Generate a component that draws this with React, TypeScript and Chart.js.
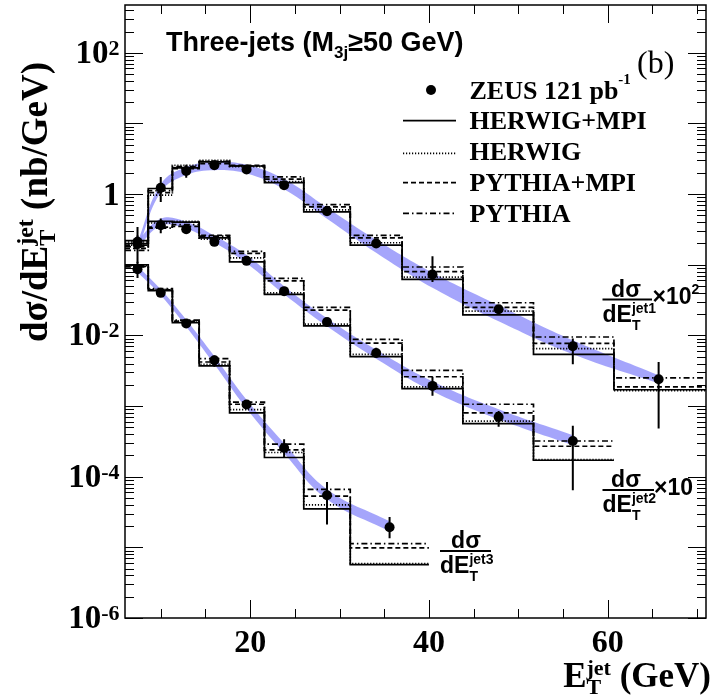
import React, { useEffect, useRef } from "react";
import { Chart, registerables } from "chart.js";
Chart.register(...registerables);

const X_MIN = 6;
const X_MAX = 71;
const Y_MIN = 1e-6;
const Y_MAX = 475;

// bin edges (GeV)
const edges1 = [6, 8.6, 11.3, 14.3, 17.7, 21.6, 26, 31.2, 37, 43.8, 51.7, 60.7, 71];
const edges2 = [6, 8.6, 11.3, 14.3, 17.7, 21.6, 26, 31.2, 37, 43.8, 51.7, 60.7];
const edges3 = [6, 8.6, 11.3, 14.3, 17.7, 21.6, 26, 31.2, 40];

// data point positions
const xPts12 = [7.4, 10, 12.85, 16, 19.6, 23.8, 28.6, 34.1, 40.4, 47.8, 56.1, 65.7];
const xPts2 = [7.4, 10, 12.85, 16, 19.6, 23.8, 28.6, 34.1, 40.4, 47.8, 56.1];
const xPts3 = [7.4, 10, 12.85, 16, 19.6, 23.8, 28.6, 35.6];

// ZEUS data: jet1 (x100)
const jet1Val = [0.196, 1.23, 2.13, 2.57, 2.23, 1.34, 0.574, 0.2, 0.0728, 0.0235, 0.00703, 0.0024];
const jet1Lo = [0.105, 0.776, 1.7, 2.35, 2.1, 1.27, 0.55, 0.19, 0.057, 0.0205, 0.0039, 0.00048];
const jet1Hi = [0.343, 1.75, 2.6, 2.8, 2.36, 1.41, 0.6, 0.21, 0.132, 0.0265, 0.00904, 0.00422];
// jet2 (x10)
const jet2Val = [0.211, 0.363, 0.319, 0.211, 0.1135, 0.0423, 0.0155, 0.00565, 0.00193, 0.0007, 0.00032];
const jet2Lo = [0.17, 0.28, 0.3, 0.2, 0.108, 0.04, 0.0147, 0.0049, 0.0014, 0.00051, 0.0000645];
const jet2Hi = [0.26, 0.45, 0.34, 0.225, 0.12, 0.0447, 0.0163, 0.0067, 0.0026, 0.00085, 0.000526];
// jet3 (x1)
const jet3Val = [0.0865, 0.04, 0.01476, 0.00446, 0.00105, 0.000255, 0.0000546, 0.0000192];
const jet3Lo = [0.065, 0.037, 0.014, 0.0036, 0.001, 0.00019, 0.000021, 0.0000135];
const jet3Hi = [0.11, 0.043, 0.0156, 0.0052, 0.0011, 0.000339, 0.000084, 0.0000269];

// NLO bands (upper / lower edges)
const band1Hi = [0.207, 1.38, 2.41, 2.83, 2.61, 1.63, 0.643, 0.226, 0.0773, 0.0268, 0.00855, 0.00274];
const band1Lo = [0.156, 1.07, 1.86, 2.18, 1.95, 1.17, 0.449, 0.148, 0.0473, 0.0159, 0.00542, 0.0021];
const band2Hi = [0.219, 0.449, 0.407, 0.258, 0.137, 0.0498, 0.0175, 0.00627, 0.00224, 0.0009, 0.000387];
const band2Lo = [0.175, 0.357, 0.324, 0.206, 0.105, 0.0383, 0.0135, 0.00468, 0.00162, 0.00065, 0.000279];
const band3Hi = [0.0955, 0.0451, 0.0167, 0.00507, 0.00123, 0.000298, 0.0000664, 0.0000234];
const band3Lo = [0.0785, 0.0371, 0.0133, 0.00391, 0.00092, 0.000215, 0.000048, 0.0000169];

// MC histograms
const j1HerwigMpi = [0.2, 1.2, 2.35, 2.85, 2.5, 1.45, 0.56, 0.19, 0.062, 0.0195, 0.0054, 0.0017];
const j1Herwig = [0.19, 0.97, 2.55, 3.0, 2.45, 1.5, 0.6, 0.205, 0.067, 0.022, 0.0065, 0.00165];
const j1PythiaMpi = [0.17, 1.05, 2.3, 2.7, 2.55, 1.63, 0.66, 0.24, 0.08, 0.025, 0.0077, 0.00187];
const j1Pythia = [0.16, 1.12, 2.45, 2.9, 2.5, 1.75, 0.71, 0.26, 0.093, 0.029, 0.0095, 0.0025];

const j2HerwigMpi = [0.22, 0.41, 0.4, 0.24, 0.11, 0.038, 0.0136, 0.005, 0.00177, 0.000565, 0.000171];
const j2Herwig = [0.21, 0.39, 0.41, 0.23, 0.125, 0.04, 0.0144, 0.0054, 0.00187, 0.00061, 0.000175];
const j2PythiaMpi = [0.19, 0.34, 0.35, 0.26, 0.145, 0.059, 0.0228, 0.0078, 0.0026, 0.0008, 0.00027];
const j2Pythia = [0.18, 0.33, 0.37, 0.255, 0.155, 0.064, 0.025, 0.0088, 0.0032, 0.00106, 0.00032];

const j3HerwigMpi = [0.1, 0.043, 0.0152, 0.0037, 0.0008, 0.000187, 0.000035, 0.0000057];
const j3Herwig = [0.097, 0.045, 0.016, 0.0039, 0.00089, 0.00022, 0.00004, 0.0000059];
const j3PythiaMpi = [0.095, 0.044, 0.0158, 0.0042, 0.00106, 0.00024, 0.000053, 0.0000098];
const j3Pythia = [0.093, 0.046, 0.0165, 0.0047, 0.00114, 0.00029, 0.000066, 0.0000113];

const yLabelExps = [2, 0, -2, -4, -6];
const xMajorTicks = [20, 40, 60];
const xMinorTicks = [10, 15, 25, 30, 35, 45, 50, 55, 65, 70];

const legendRows = ["ZEUS 121 pb", "HERWIG+MPI", "HERWIG", "PYTHIA+MPI", "PYTHIA"];

const BAND = "rgba(135,135,250,0.75)";
const DOTTED = [1.2, 1.8];
const DASHED = [5, 3];
const DASHDOT = [6, 3, 1.5, 3];
const STYLES = [[], DOTTED, DASHED, DASHDOT];

const SERIF = '"Liberation Serif", "Times New Roman", serif';
const SANS = '"Liberation Sans", Arial, sans-serif';

type Pt = { x: number; y: number | null };

function pts(xs: number[], ys: number[]): Pt[] {
  return xs.map((x, i) => ({ x, y: ys[i] }));
}
function histPts(edges: number[], vals: number[]): Pt[] {
  const p: Pt[] = vals.map((v, i) => ({ x: edges[i], y: v }));
  p.push({ x: edges[vals.length], y: vals[vals.length - 1] });
  return p;
}
function errPts(xs: number[], lo: number[], hi: number[]): Pt[] {
  const p: Pt[] = [];
  xs.forEach((x, i) => {
    p.push({ x, y: lo[i] }, { x, y: hi[i] }, { x, y: null });
  });
  return p;
}

type Piece =
  | { t: string; font: string; dy?: number }
  | { sup: string; sub: string; font: string; supDy: number; subDy: number };

function pieceW(ctx: CanvasRenderingContext2D, p: Piece): number {
  ctx.font = p.font;
  if ("t" in p) return ctx.measureText(p.t).width;
  return Math.max(ctx.measureText(p.sup).width, ctx.measureText(p.sub).width);
}
function drawPieces(ctx: CanvasRenderingContext2D, pieces: Piece[], x: number, y: number, align: "left" | "center" | "right") {
  const widths = pieces.map((p) => pieceW(ctx, p));
  const total = widths.reduce((a, b) => a + b, 0);
  let cx = align === "left" ? x : align === "center" ? x - total / 2 : x - total;
  ctx.textAlign = "left";
  ctx.textBaseline = "alphabetic";
  pieces.forEach((p, i) => {
    ctx.font = p.font;
    if ("t" in p) {
      ctx.fillText(p.t, cx, y + (p.dy || 0));
    } else {
      ctx.fillText(p.sup, cx, y + p.supDy);
      ctx.fillText(p.sub, cx, y + p.subDy);
    }
    cx += widths[i];
  });
}

const decorPlugin = {
  id: "decor",
  afterDraw(chart: any) {
    const ctx: CanvasRenderingContext2D = chart.ctx;
    const xs = chart.scales.x;
    const ys = chart.scales.y;
    const a = chart.chartArea;
    ctx.save();
    ctx.fillStyle = "#000";
    ctx.strokeStyle = "#000";
    // ticks
    ctx.lineWidth = 1;
    ctx.beginPath();
    for (let e = -6; e <= 2; e++) {
      for (let m = 1; m <= 9; m++) {
        const v = m * Math.pow(10, e);
        if (v < Y_MIN || v > Y_MAX) continue;
        const py = Math.round(ys.getPixelForValue(v)) + 0.5;
        const len = m === 1 ? 18 : 9;
        ctx.moveTo(a.left, py);
        ctx.lineTo(a.left + len, py);
        ctx.moveTo(a.right, py);
        ctx.lineTo(a.right - len, py);
      }
    }
    const xt = [...xMajorTicks.map((v) => [v, 18]), ...xMinorTicks.map((v) => [v, 9])];
    xt.forEach(([v, len]) => {
      const px = Math.round(xs.getPixelForValue(v)) + 0.5;
      ctx.moveTo(px, a.bottom);
      ctx.lineTo(px, a.bottom - len);
      ctx.moveTo(px, a.top);
      ctx.lineTo(px, a.top + len);
    });
    ctx.stroke();
    // frame
    ctx.lineWidth = 1.5;
    ctx.strokeRect(a.left, a.top, a.right - a.left, a.bottom - a.top);

    // x tick labels
    ctx.font = `bold 32px ${SERIF}`;
    ctx.textAlign = "center";
    ctx.textBaseline = "alphabetic";
    xMajorTicks.forEach((v) => {
      ctx.fillText(String(v), xs.getPixelForValue(v), 652);
    });
    // y tick labels
    yLabelExps.forEach((e) => {
      const py = ys.getPixelForValue(Math.pow(10, e));
      if (e === 0) {
        drawPieces(ctx, [{ t: "1", font: `bold 33px ${SERIF}` }], 119.5, py + 11, "right");
      } else {
        drawPieces(
          ctx,
          [
            { t: "10", font: `bold 33px ${SERIF}` },
            { t: String(e), font: `bold 22px ${SERIF}`, dy: -8 },
          ],
          119.5,
          py + 10,
          "right"
        );
      }
    });

    // axis titles
    drawPieces(
      ctx,
      [
        { t: "E", font: `bold 35px ${SERIF}` },
        { sup: "jet", sub: "T", font: `bold 22px ${SERIF}`, supDy: -12, subDy: 7 },
        { t: " (GeV)", font: `bold 35px ${SERIF}` },
      ],
      711,
      687,
      "right"
    );
    ctx.save();
    ctx.translate(47, 202);
    ctx.rotate(-Math.PI / 2);
    drawPieces(
      ctx,
      [
        { t: "d\u03c3/dE", font: `bold 37px ${SERIF}` },
        { sup: "jet", sub: "T", font: `bold 24px ${SERIF}`, supDy: -14, subDy: 8 },
        { t: " (nb/GeV)", font: `bold 37px ${SERIF}` },
      ],
      0,
      0,
      "center"
    );
    ctx.restore();

    // title
    drawPieces(
      ctx,
      [
        { t: "Three-jets (M", font: `bold 27px ${SANS}` },
        { t: "3j", font: `bold 17px ${SANS}`, dy: 7 },
        { t: "\u226550 GeV)", font: `bold 27px ${SANS}` },
      ],
      166,
      51,
      "left"
    );
    ctx.font = `32px ${SERIF}`;
    ctx.textAlign = "left";
    ctx.fillText("(b)", 637, 73);

    // legend
    const baselines = [99, 129, 160, 191, 221.5];
    const centers = [90, 120.7, 153.3, 182.7, 213.3];
    legendRows.forEach((r, i) => {
      if (i === 0) {
        drawPieces(
          ctx,
          [
            { t: r, font: `bold 26px ${SERIF}` },
            { t: "-1", font: `bold 15px ${SERIF}`, dy: -15 },
          ],
          469.5,
          baselines[i],
          "left"
        );
      } else {
        drawPieces(ctx, [{ t: r, font: `bold 26px ${SERIF}` }], 469.5, baselines[i], "left");
      }
    });
    ctx.beginPath();
    ctx.arc(431, centers[0], 5, 0, Math.PI * 2);
    ctx.fill();
    ctx.lineWidth = 1.7;
    for (let i = 1; i < 5; i++) {
      ctx.setLineDash(STYLES[i - 1]);
      ctx.beginPath();
      ctx.moveTo(403, centers[i]);
      ctx.lineTo(456, centers[i]);
      ctx.stroke();
    }
    ctx.setLineDash([]);

    // series labels
    const frac = (cx: number, lineY: number, x0: number, x1: number, tag: string) => {
      ctx.lineWidth = 2;
      ctx.beginPath();
      ctx.moveTo(x0, lineY);
      ctx.lineTo(x1, lineY);
      ctx.stroke();
      drawPieces(ctx, [{ t: "d\u03c3", font: `bold 23px ${SANS}` }], cx, lineY - 3, "center");
      drawPieces(
        ctx,
        [
          { t: "dE", font: `bold 23px ${SANS}` },
          { sup: tag, sub: "T", font: `bold 14px ${SANS}`, supDy: -9, subDy: 8 },
        ],
        x0,
        lineY + 22,
        "left"
      );
    };
    frac(626, 299.5, 602.5, 652, "jet1");
    drawPieces(
      ctx,
      [
        { t: "\u00d710", font: `bold 23px ${SANS}` },
        { t: "2", font: `bold 14px ${SANS}`, dy: -10 },
      ],
      652.5,
      304,
      "left"
    );
    frac(626, 490, 602.5, 654, "jet2");
    drawPieces(ctx, [{ t: "\u00d710", font: `bold 23px ${SANS}` }], 654, 495, "left");
    frac(466, 551, 440, 491, "jet3");
    ctx.restore();
  },
};

export default function App() {
  const ref = useRef<HTMLCanvasElement | null>(null);
  useEffect(() => {
    if (!ref.current) return;
    const hist = (edges: number[], vals: number[], style: number[]) => ({
      data: histPts(edges, vals),
      stepped: "before" as const,
      borderColor: "#000",
      borderWidth: 1.7,
      borderDash: style,
      pointRadius: 0,
      fill: false,
      tension: 0,
      order: 5,
    });
    const bandHi = (xs: number[], ys: number[]) => ({
      data: pts(xs, ys),
      borderWidth: 0,
      borderColor: "rgba(0,0,0,0)",
      pointRadius: 0,
      tension: 0.4,
      fill: "+1",
      backgroundColor: BAND,
      order: 10,
    });
    const bandLo = (xs: number[], ys: number[]) => ({
      data: pts(xs, ys),
      borderWidth: 0,
      borderColor: "rgba(0,0,0,0)",
      pointRadius: 0,
      tension: 0.4,
      fill: false,
      order: 10,
    });
    const errs = (xs: number[], lo: number[], hi: number[]) => ({
      data: errPts(xs, lo, hi),
      borderColor: "#000",
      borderWidth: 2,
      pointRadius: 0,
      spanGaps: false,
      fill: false,
      order: 2,
    });
    const dots = (xs: number[], ys: number[]) => ({
      data: pts(xs, ys),
      showLine: false,
      pointRadius: 5,
      pointBackgroundColor: "#000",
      pointBorderWidth: 0,
      order: 1,
    });
    const chart = new Chart(ref.current, {
      type: "line",
      data: {
        datasets: [
          bandHi(xPts12, band1Hi),
          bandLo(xPts12, band1Lo),
          bandHi(xPts2, band2Hi),
          bandLo(xPts2, band2Lo),
          bandHi(xPts3, band3Hi),
          bandLo(xPts3, band3Lo),
          hist(edges1, j1HerwigMpi, STYLES[0]),
          hist(edges1, j1Herwig, STYLES[1]),
          hist(edges1, j1PythiaMpi, STYLES[2]),
          hist(edges1, j1Pythia, STYLES[3]),
          hist(edges2, j2HerwigMpi, STYLES[0]),
          hist(edges2, j2Herwig, STYLES[1]),
          hist(edges2, j2PythiaMpi, STYLES[2]),
          hist(edges2, j2Pythia, STYLES[3]),
          hist(edges3, j3HerwigMpi, STYLES[0]),
          hist(edges3, j3Herwig, STYLES[1]),
          hist(edges3, j3PythiaMpi, STYLES[2]),
          hist(edges3, j3Pythia, STYLES[3]),
          errs(xPts12, jet1Lo, jet1Hi),
          errs(xPts2, jet2Lo, jet2Hi),
          errs(xPts3, jet3Lo, jet3Hi),
          dots(xPts12, jet1Val),
          dots(xPts2, jet2Val),
          dots(xPts3, jet3Val),
        ] as any,
      },
      options: {
        responsive: false,
        animation: false,
        devicePixelRatio: 1,
        events: [],
        layout: { padding: { left: 125, right: 1, top: 5, bottom: 82 } },
        plugins: { legend: { display: false }, tooltip: { enabled: false } },
        scales: {
          x: { type: "linear", min: X_MIN, max: X_MAX, display: false },
          y: { type: "logarithmic", min: Y_MIN, max: Y_MAX, display: false },
        },
      },
      plugins: [decorPlugin],
    });
    return () => chart.destroy();
  }, []);
  return (
    <div style={{ position: "absolute", left: 0, top: 0, width: 711, height: 700, background: "#fff" }}>
      <canvas ref={ref} width={711} height={700} />
    </div>
  );
}
